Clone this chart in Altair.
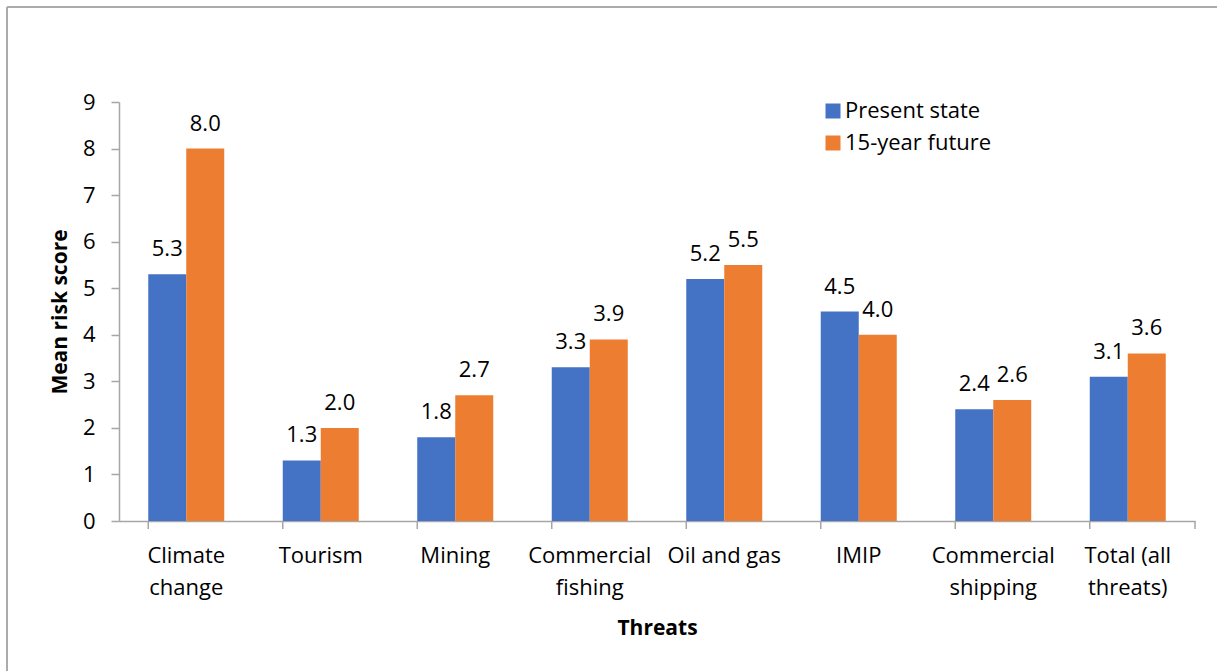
import altair as alt
import pandas as pd

# Mean risk score per threat, present state vs 15-year future
categories = [
    "Climate\nchange", "Tourism", "Mining", "Commercial\nfishing",
    "Oil and gas", "IMIP", "Commercial\nshipping", "Total (all\nthreats)",
]
series = ["Present state", "15-year future"]
present = [5.3, 1.3, 1.8, 3.3, 5.2, 4.5, 2.4, 3.1]
future = [8.0, 2.0, 2.7, 3.9, 5.5, 4.0, 2.6, 3.6]
y_ticks = list(range(0, 10))

rows = []
for c, p, f in zip(categories, present, future):
    rows.append({"threat": c, "series": series[0], "score": p})
    rows.append({"threat": c, "series": series[1], "score": f})
df = pd.DataFrame(rows)

W, H = 1076, 419
FONT = "Open Sans"
FS = 22
AXIS_GREY = "#A6A6A6"

x_enc = alt.X(
    "threat:N",
    sort=categories,
    scale=alt.Scale(paddingInner=0.435, paddingOuter=0.2175),
    axis=alt.Axis(
        title="Threats",
        labelAngle=0,
        ticks=False,
        labelExpr="split(datum.label, '\\n')",
        labelPadding=24,
        labelLineHeight=32,
        titlePadding=19,
    ),
)
y_enc = alt.Y(
    "score:Q",
    scale=alt.Scale(domain=[0, 9], nice=False),
    axis=alt.Axis(
        title="Mean risk score",
        values=y_ticks,
        grid=False,
        tickSize=8,
        labelPadding=16,
        titlePadding=12,
    ),
)
offset_enc = alt.XOffset("series:N", sort=series,
                         scale=alt.Scale(paddingInner=0, paddingOuter=0))

bars = alt.Chart(df).mark_bar().encode(
    x=x_enc,
    y=y_enc,
    xOffset=offset_enc,
    color=alt.Color(
        "series:N",
        sort=series,
        scale=alt.Scale(domain=series, range=["#4472C4", "#ED7D31"]),
        legend=alt.Legend(
            title=None,
            orient="none",
            legendX=703,
            legendY=-2,
            symbolType="square",
            symbolSize=225,
            symbolStrokeWidth=0,
            labelFontSize=FS,
            labelFont=FONT,
            labelColor="black",
            labelOffset=1,
            rowPadding=10,
        ),
    ),
)

labels = alt.Chart(df).mark_text(
    font=FONT, fontSize=FS, color="black", baseline="alphabetic", dy=-18
).encode(
    x=alt.X("threat:N", sort=categories),
    xOffset=offset_enc,
    y="score:Q",
    text=alt.Text("score:Q", format=".1f"),
)

# category boundary ticks below the x axis
tick_df = pd.DataFrame({"threat": categories})
x_ticks = alt.Chart(tick_df).mark_rule(color=AXIS_GREY, strokeWidth=1.5).encode(
    x=alt.X("threat:N", sort=categories, bandPosition=0),
    y=alt.value(H),
    y2=alt.value(H + 8),
)
end_tick = alt.Chart(pd.DataFrame({"k": [0]})).mark_rule(
    color=AXIS_GREY, strokeWidth=1.5
).encode(x=alt.value(W), y=alt.value(H), y2=alt.value(H + 8))

# chart frame (top and left edges)
frame_top = alt.Chart(pd.DataFrame({"k": [0]})).mark_rule(
    color="#ABABAB", strokeWidth=2
).encode(x=alt.value(-112), x2=alt.value(W + 30), y=alt.value(-95))
frame_left = alt.Chart(pd.DataFrame({"k": [0]})).mark_rule(
    color="#ABABAB", strokeWidth=2
).encode(x=alt.value(-112), y=alt.value(-95), y2=alt.value(H + 160))

chart = (
    alt.layer(bars, labels, x_ticks, end_tick, frame_top, frame_left)
    .properties(
        width=W,
        height=H,
        padding={"left": 119, "top": 102, "right": 22, "bottom": 150},
        autosize=alt.AutoSizeParams(type="none"),
        background="white",
    )
    .configure_view(stroke=None)
    .configure_axis(
        domainColor=AXIS_GREY,
        domainWidth=1.5,
        tickColor=AXIS_GREY,
        tickWidth=1.5,
        labelFont=FONT,
        labelFontSize=FS,
        labelColor="black",
        titleFont=FONT,
        titleFontSize=21,
        titleFontWeight="bold",
        titleColor="black",
    )
)

chart.save("out.html", embed_options={"renderer": "svg", "actions": False})
